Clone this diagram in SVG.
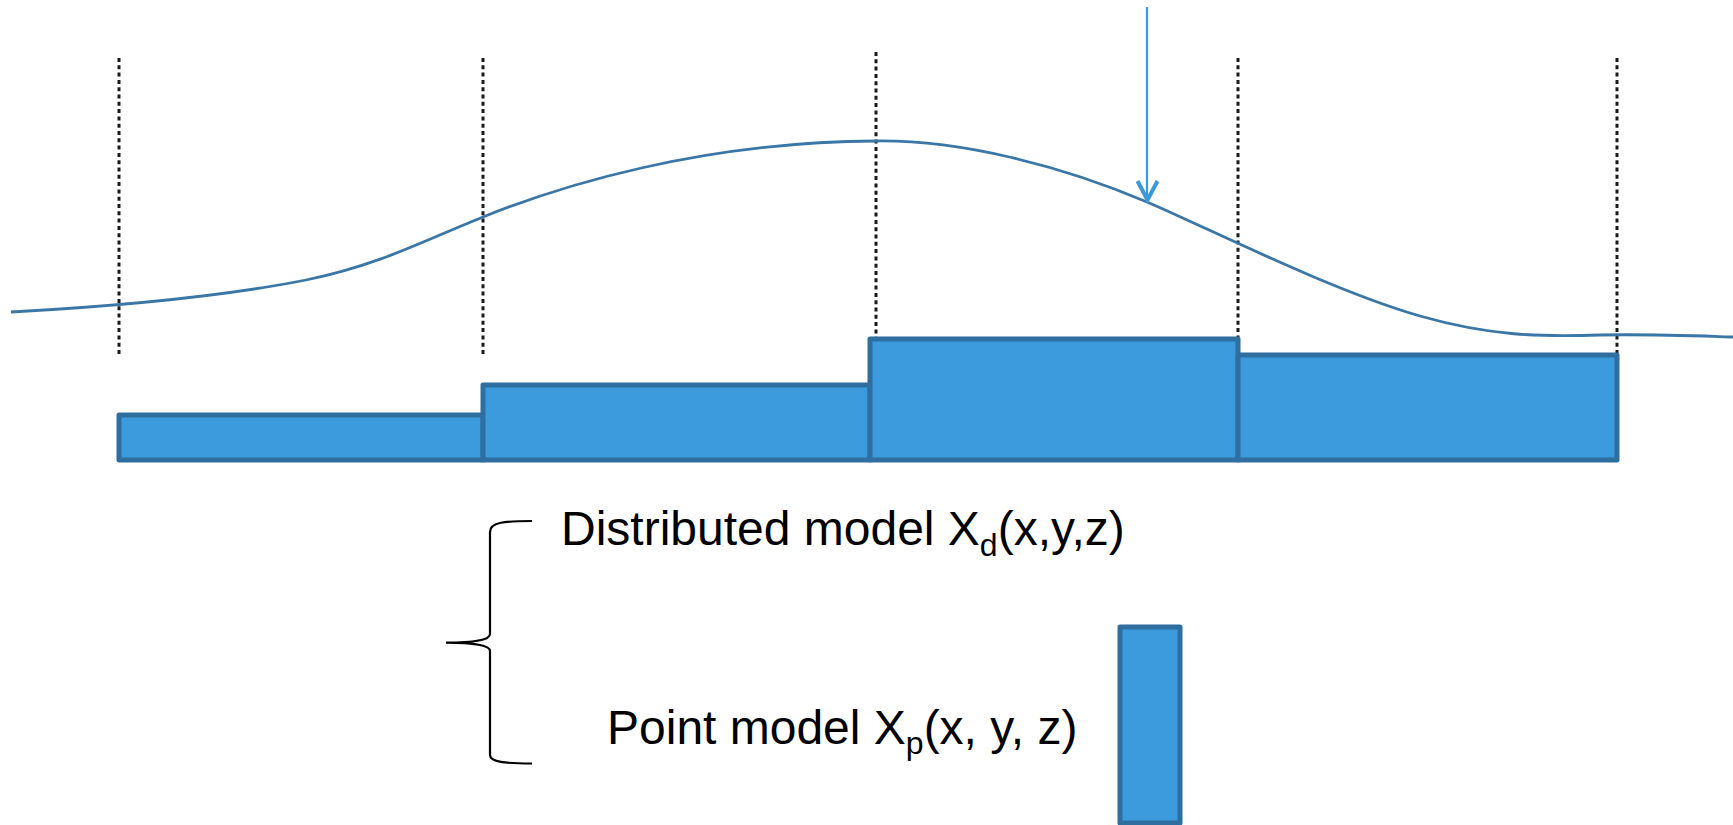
<svg xmlns="http://www.w3.org/2000/svg" width="1733" height="825" viewBox="0 0 1733 825">
  <style>
    .bar { fill: #3b9bdd; stroke: #2e6fa0; stroke-width: 5; stroke-linejoin: round; }
    .dash { stroke: #1a1a1a; stroke-width: 3; stroke-dasharray: 4 3.3; fill: none; }
    .curve { stroke: #3a76a6; stroke-width: 2.8; fill: none; }
    .label { font-family: "Liberation Sans", Arial, sans-serif; font-size: 48px; fill: #000; }
    .sub { font-size: 32px; }
    .brace { stroke: #000; stroke-width: 2.2; fill: none; }
    .arrow { stroke: #3a9ad9; fill: none; }
  </style>
  <rect width="1733" height="825" fill="#fff"/>

  <g id="dividers">
    <line class="dash" x1="119" y1="58" x2="119" y2="355"/>
    <line class="dash" x1="483" y1="58" x2="483" y2="355"/>
    <line class="dash" x1="876" y1="52" x2="876" y2="337"/>
    <line class="dash" x1="1238" y1="58" x2="1238" y2="337"/>
    <line class="dash" x1="1617" y1="58" x2="1617" y2="353"/>
  </g>

  <g id="distribution-curve">
    <path class="curve" d="M 11 312 C 120 306, 220 297, 306 280 C 380 265, 430 238, 483 217 C 560 186, 700 142, 876 141 C 960 140, 1060 165, 1147 202 C 1210 229, 1330 290, 1420 316 C 1490 336, 1540 337, 1600 335 C 1650 334, 1700 336, 1733 337"/>
  </g>

  <g id="bar1"><rect class="bar" x="119" y="415" width="364" height="45"/></g>
  <g id="bar2"><rect class="bar" x="483" y="385" width="387" height="75"/></g>
  <g id="bar3"><rect class="bar" x="870" y="339" width="368" height="121"/></g>
  <g id="bar4"><rect class="bar" x="1238" y="355" width="379" height="105"/></g>

  <g id="connectors">
    <line class="arrow" stroke-width="2.2" x1="1147" y1="7" x2="1147" y2="197"/>
    <polyline class="arrow" stroke-width="4" stroke-linejoin="miter" points="1137.5,181 1147.5,200 1157.5,181"/>
  </g>

  <g id="brace">
    <path class="brace" d="M 532 521 C 505 521 490 522 490 532 L 490 634 C 490 640 475 642.5 446 642.7 C 475 643 490 645 490 651 L 490 755 C 490 762 505 763.5 532 763.5"/>
  </g>

  <g id="distributed-label">
    <text class="label" x="561" y="544.5">Distributed model X<tspan class="sub" dy="11">d</tspan><tspan dy="-11">(x,y,z)</tspan></text>
  </g>

  <g id="point-label">
    <text class="label" x="607" y="744">Point model X<tspan class="sub" dy="10">p</tspan><tspan dy="-10">(x, y, z)</tspan></text>
  </g>

  <g id="point-bar"><rect class="bar" x="1120" y="627" width="60" height="196"/></g>
</svg>
